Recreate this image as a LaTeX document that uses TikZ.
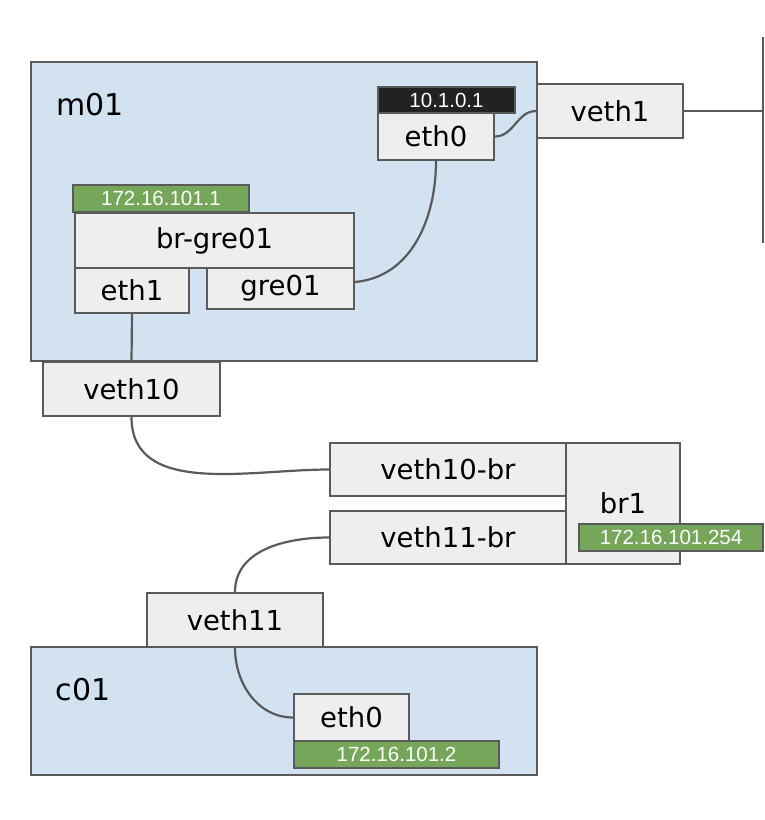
\documentclass[tikz,border=0pt]{standalone}
\usepackage{fontspec}
\setmainfont{DejaVu Sans}
\newfontfamily\ipfont{Liberation Sans}
\usepackage{tikz}

\definecolor{hostblue}{HTML}{D3E2F1}
\definecolor{ifgray}{HTML}{EEEEEE}
\definecolor{edgegray}{HTML}{5A5A5A}
\definecolor{ipgreen}{HTML}{76A65A}
\definecolor{ipblack}{HTML}{222222}

\begin{document}
\begin{tikzpicture}[x=1pt, y=-1pt, line width=2pt,
			host/.style={
				draw = edgegray,
				fill = hostblue,
				inner sep = 0},
			hostname/.style={
				inner sep = 0,
				font = \fontsize{30}{34}\selectfont},
			iface/.style={
				draw = edgegray,
				fill = ifgray,
				inner sep = 0,
				font = \fontsize{27.5}{32}\selectfont},
			ipaddr/.style={
				draw = edgegray,
				fill = ipgreen,
				text = white,
				inner sep = 0,
				minimum height = 27,
				font = \ipfont\fontsize{20.5}{24}\selectfont},
			wire/.style={
				draw = edgegray,
				line width = 2.2pt}]
			\useasboundingbox (0, 0) rectangle (764, 820);
			% hosts
			\node (m01) at (284, 211.5) [host, minimum width = 506, minimum height = 299] {};
			\node (c01) at (284, 711) [host, minimum width = 506, minimum height = 128] {};
			\node (m01name) at (90, 105) [hostname] {m01};
			\node (c01name) at (83, 690) [hostname] {c01};
			% m01
			\node (eth0m) at (436, 136.5) [iface, minimum width = 116, minimum height = 47] {eth0};
			\node (ipeth0m) at (446.5, 100) [ipaddr, fill = ipblack, minimum width = 137, minimum height = 26] {10.1.0.1};
			\node (brgre) at (214.5, 240.5) [iface, minimum width = 279, minimum height = 55] {br-gre01};
			\node (eth1) at (132, 290.5) [iface, minimum width = 114, minimum height = 45] {eth1};
			\node (gre01) at (280.5, 288.5) [iface, minimum width = 147, minimum height = 41] {gre01};
			\node (ipbrgre) at (161, 198.5) [ipaddr, minimum width = 176] {172.16.101.1};
			\node (veth1) at (610, 111) [iface, minimum width = 146, minimum height = 54] {veth1};
			\node (veth10) at (131.5, 389) [iface, minimum width = 177, minimum height = 54] {veth10};
			% br1
			\node (veth10br) at (448, 469.5) [iface, minimum width = 236, minimum height = 53] {veth10-br};
			\node (veth11br) at (448, 537.5) [iface, minimum width = 236, minimum height = 53] {veth11-br};
			\node (br1) at (623, 503.5) [iface, minimum width = 114, minimum height = 121] {br1};
			\node (ipbr1) at (671, 537.5) [ipaddr, minimum width = 184] {172.16.101.254};
			% c01
			\node (veth11) at (235, 620) [iface, minimum width = 176, minimum height = 54] {veth11};
			\node (eth0c) at (351.5, 717.5) [iface, minimum width = 115, minimum height = 47] {eth0};
			\node (ipeth0c) at (396.5, 754.5) [ipaddr, minimum width = 205] {172.16.101.2};
			% links
			\coordinate (bustop) at (763, 37);
			\coordinate (busbot) at (763, 243);
			\coordinate (busport) at (763, 111);
			\draw[wire] (bustop) -- (busbot);
			\draw[wire] (veth1.east) -- (busport);
			\draw[wire] (eth0m.east) to[out = 0, in = 180] (veth1.west);
			\draw[wire] (eth0m.south) to[out = -90, in = 5] (gre01.5);
			\draw[wire] (eth1.south) -- (veth10.north);
			\draw[wire] (veth10.south) to[out = -90, in = 180] (veth10br.west);
			\draw[wire] (veth11br.west) to[out = 180, in = 90] (veth11.north);
			\draw[wire] (veth11.south) to[out = -90, in = 180] (eth0c.west);
			\end{tikzpicture}
\end{document}
